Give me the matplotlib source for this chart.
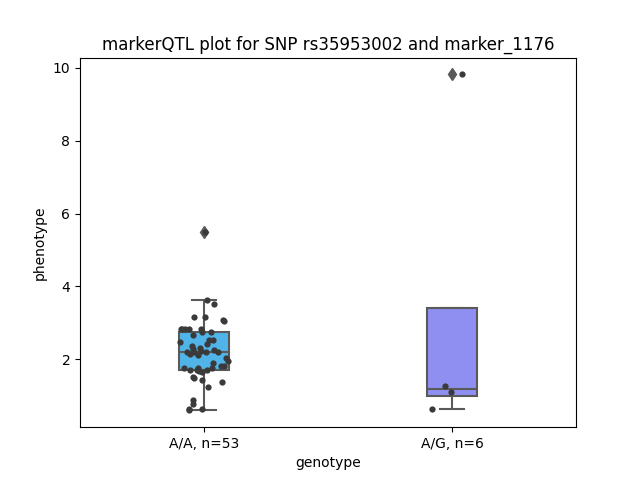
import numpy as np
import pandas as pd
import matplotlib
matplotlib.use("Agg")
import matplotlib.pyplot as plt
import seaborn as sns

# phenotype values per genotype group
aa_values = [3.62, 3.53, 3.16, 3.16, 3.09, 3.04, 2.84, 2.84, 2.84, 2.83,
             2.82, 2.75, 2.75, 2.66, 2.54, 2.53, 2.48, 2.43, 2.37, 2.30,
             2.29, 2.25, 2.22, 2.20, 2.19, 2.19, 2.19, 2.15, 2.11, 2.05,
             1.95, 1.90, 1.81, 1.81, 1.77, 1.77, 1.75, 1.72, 1.72, 1.70,
             1.68, 1.65, 1.53, 1.49, 1.44, 1.38, 1.24, 0.89, 0.78, 0.64,
             0.64, 0.60, 5.50]
ag_values = [0.63, 1.10, 1.28, 9.82]
labels = ["A/A, n=53", "A/G, n=6"]
colors = ["#51b4e8", "#8f8ff2"]

df = pd.DataFrame({
    "genotype": [labels[0]] * len(aa_values) + [labels[1]] * len(ag_values),
    "phenotype": aa_values + ag_values,
})

np.random.seed(3)
fig, ax = plt.subplots(figsize=(6.4, 4.8), dpi=100)
sns.boxplot(data=df, x="genotype", y="phenotype", hue="genotype",
            palette=colors, width=0.2, linewidth=1.5, linecolor="#5a5a5a",
            saturation=1, legend=False, ax=ax,
            flierprops=dict(marker="d", markerfacecolor="#5a5a5a",
                            markeredgecolor="#5a5a5a", markersize=6))
sns.stripplot(data=df, x="genotype", y="phenotype", color="#3a3a3a",
              size=4.5, ax=ax)
ax.set_title("markerQTL plot for SNP rs35953002 and marker_1176")
ax.set_xlabel("genotype")
ax.set_ylabel("phenotype")
fig.savefig("out.png", dpi=100)
